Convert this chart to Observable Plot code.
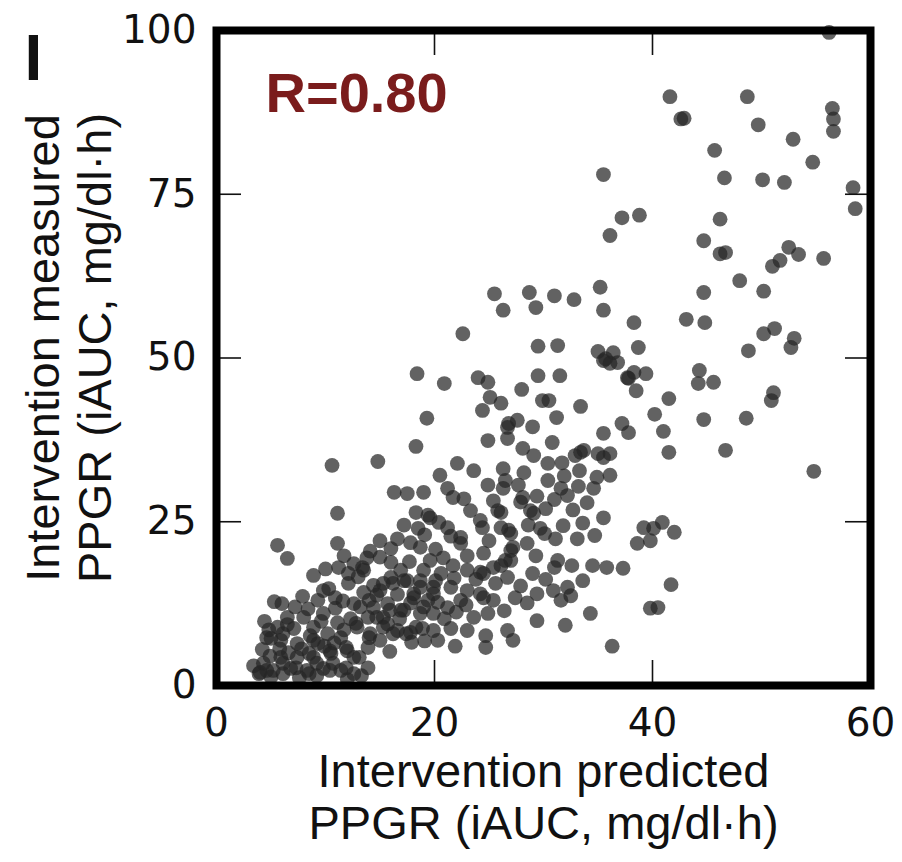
<!DOCTYPE html>
<html><head><meta charset="utf-8">
<script src="https://cdn.jsdelivr.net/npm/d3@7"></script>
<script src="https://cdn.jsdelivr.net/npm/@observablehq/plot@0.6"></script>
<style>body{margin:0;background:#fff}</style>
</head><body><div id="chart"></div>
<script>
// Intervention predicted PPGR (x) and measured PPGR (y)
const predicted = [
  56.2,41.6,42.6,42.9,48.7,49.7,56.5,56.6,56.6,52.9,45.7,54.7,35.5,46.6,50.1,52.1,58.4,58.6,37.2,38.8,36.1,46.2,44.7,46.2,46.7,52.5,53.4,51.7,51.0,55.7,48.0,44.7,50.2,35.2,25.5,28.7,31.0,32.8,
  35.5,38.3,43.1,44.8,50.2,51.2,48.8,52.7,53.0,38.7, 36.4,35.7,36.8,38.3,39.4,38.5,37.8,44.3,44.2,45.6, 51.1,50.9,41.5,40.2,44.7,48.6,41.0,37.2,37.8,41.5, 46.7,54.8,35.5,36.1,35.5,36.1,35.5,39.2,40.9,40.1, 42.0,38.6,39.8,35.8,37.3,41.7,39.8,40.5,36.3,
  26.3,29.3,22.6,29.5,31.3,35.0,36.1,35.5,37.7,18.4, 20.9,24.0,24.9,29.5,31.5,28.0,25.1,26.1,24.4,29.9, 30.5,33.4,31.2,19.3,26.8,27.6,29.0,26.7,24.9,30.8, 28.1,29.1,30.4,31.7,32.9,33.7,35.0,18.3,14.8,10.6,
  26.3,26.5,26.3,28.2,30.4,31.6,32.2,33.2,34.6,34.0, 28.1,28.8,30.2,20.5,21.2,21.7,22.7,23.3,16.3,17.5, 19.0,11.1,24.4,25.8,26.1,26.8,29.7,31.8,31.1,33.1, 18.3,19.4,20.4,18.5,15.0,16.6,17.8,18.7,11.1,5.6,
  6.5,8.9,11.2,12.6,13.4,12.1,16.0,16.9,16.0,19.6, 20.8,21.7,23.0,24.2,25.4,26.5,27.2,28.5,24.5,25.0, 29.0,29.4,30.9,32.2,32.5,31.6,34.5,34.3,29.4,32.0, 26.7,27.2,24.7,24.7,23.0,21.5,19.9,18.9,17.8,16.6,
  23.6,24.9,22.4,24.2,25.4,20.6,19.9,18.7,18.1,19.4, 21.2,19.9,18.7,16.2,15.0,15.7,14.4,16.9,15.3,13.5, 12.6,13.9,12.9,14.1,15.0,13.9,12.6,13.9,9.8,10.9, 9.3,10.9,9.8,11.1,6.5,8.0,8.9,7.1,5.6,5.0,
  5.9,7.4,9.3,10.2,11.4,12.0,10.5,8.9,7.4,5.9, 4.3,4.0,5.2,6.8,8.3,9.8,11.4,12.6,10.7,26.7, 33.4,29.1,26.1,19.6,21.2,22.4,24.2,27.0,31.3,22.4, 27.0,24.5,26.1,27.0,17.5,18.7,19.9,21.5,23.0,24.5,
  13.5,14.4,15.3,17.2,18.1,17.2,14.0,12.8,14.7,15.9, 15.3,6.1,8.9,14.0,16.2,17.4,18.3,10.4,11.9,13.1, 4.6,6.1,7.3,9.2,10.4,11.9,8.5,3.9,6.1,8.5, 4.6,4.2,4.8,
  4.9,5.8,6.6,7.8,8.6,9.9,10.8,11.7,12.3,13.2, 11.6,10.3,12.1,13.0,7.2,6.0,7.9,8.4,9.6,6.5, 4.4,5.3,10.0,11.7,13.8,9.2,7.6,5.0,3.4,12.0, 13.3,
  15.7,16.8,17.8,19.0,20.3,20.9,22.0,22.9,21.8,20.1, 19.0,17.7,15.0,14.1,16.0,20.1,21.5,19.1,17.2,23.8, 23.0,14.7,16.6,17.9,19.1,20.3,21.9,15.9,
  25.6,26.7,27.9,28.5,26.4,27.4,30.2,31.0,32.6,33.6, 29.3,30.1,28.6,27.9,29.4,31.0,32.7,33.6,34.7,31.9, 33.3,34.9,27.7,25.4,24.9,23.6,22.1
];
const measured = [
  99.7,89.9,86.5,86.6,89.9,85.6,88.1,86.5,84.6,83.4,81.7,79.9,78.0,77.5,77.2,76.8,76.0,72.8,71.4,71.8,68.7,71.2,67.9,65.9,66.1,66.9,65.8,64.9,64.0,65.2,61.8,60.0,60.2,60.8,59.8,60.0,59.5,58.9,
  57.3,55.4,55.9,55.4,53.7,54.5,51.1,51.6,53.0,51.6, 50.8,49.9,49.3,47.8,47.6,45.0,46.9,48.1,46.1,46.3, 44.7,43.5,43.8,41.4,40.6,40.8,38.8,40.0,38.6,35.6, 35.9,32.7,38.5,35.4,34.8,32.1,25.6,24.1,24.9,24.0, 23.4,21.7,22.1,18.0,17.9,15.4,11.8,11.9,6.0,
  57.3,57.7,53.7,51.8,51.9,51.0,49.2,49.6,47.0,47.6, 46.1,47.0,46.3,47.3,47.3,45.2,44.0,43.1,42.0,43.5, 43.5,42.6,40.9,40.8,40.0,40.5,39.5,37.7,37.4,37.1, 36.2,35.1,33.9,34.0,35.1,35.9,35.4,36.5,34.2,33.6,
  33.1,31.3,30.1,32.5,31.3,30.1,29.0,30.4,30.1,27.9, 28.7,26.7,27.0,32.1,30.1,28.7,28.5,26.7,29.5,29.3, 29.5,26.3,24.1,26.7,24.1,23.7,24.0,24.4,22.4,22.4, 26.4,26.0,24.9,24.0,22.1,22.4,21.8,21.1,21.7,21.4,
  19.4,16.8,18.0,18.6,18.0,17.1,18.8,17.6,16.5,19.1, 19.5,18.3,17.6,17.3,18.0,19.1,21.1,21.7,20.2,22.1, 17.1,14.0,14.5,15.0,13.7,13.0,18.3,11.0,9.9,9.2, 8.4,6.9,7.6,5.8,8.4,8.7,8.4,8.7,8.1,8.4,
  10.4,11.0,13.0,14.0,13.0,17.1,15.0,16.0,14.0,13.0, 11.9,11.0,11.0,15.6,14.5,12.5,11.9,11.5,10.4,14.2, 12.5,10.4,8.9,7.9,6.9,5.8,4.3,2.7,14.5,13.4, 13.0,11.8,11.0,9.6,10.4,10.4,8.9,8.7,8.9,7.2,
  6.9,6.4,6.4,7.9,7.3,5.3,4.9,4.3,4.3,4.3, 3.4,2.0,2.3,2.6,2.3,2.6,2.3,1.8,3.4,39.4, 35.6,26.3,26.4,25.6,24.1,22.6,25.2,23.2,19.1,21.7, 20.6,17.1,18.3,19.1,16.0,15.0,14.0,15.0,14.5,13.4,
  17.6,15.3,15.6,16.0,13.4,11.5,13.0,9.5,10.4,11.5, 8.9,7.9,6.9,7.3,7.9,7.9,8.9,5.3,5.8,4.3, 2.3,3.4,2.7,3.4,2.3,2.7,4.9,1.8,1.8,1.8, 7.3,5.5,8.5,
  4.5,5.6,5.0,5.6,7.6,6.0,6.5,8.5,10.2,12.0, 12.9,14.8,15.6,16.6,12.0,12.5,13.6,11.7,9.8,9.3, 9.8,12.8,17.8,19.8,19.5,1.5,1.2,1.3,3.0,0.9, 1.5,
  9.4,10.2,12.6,12.0,12.7,10.2,11.2,12.3,16.4,16.0, 17.6,18.9,19.6,20.5,20.9,20.8,22.8,23.0,24.5,16.2, 19.8,13.8,13.9,6.6,6.8,6.9,6.0,5.2,
  15.6,16.5,15.2,12.6,11.4,13.4,16.2,18.0,18.3,16.0, 19.8,23.2,24.5,28.0,28.9,28.4,26.8,24.8,22.9,32.0, 32.8,31.8,30.6,28.2,30.6,32.8,33.9
];
const xTicks = [0, 20, 40, 60];
const yTicks = [0, 25, 50, 75, 100];
const innerXTicks = [20, 40];
const innerYTicks = [25, 50, 75];
const xLabel = "Intervention predicted\nPPGR (iAUC, mg/dl·h)";
const yLabel = "Intervention measured\nPPGR (iAUC, mg/dl·h)";
const panelLabel = "I";
const rLabel = "R=0.80";

const n = Math.min(predicted.length, measured.length);
const points = d3.range(n).map(i => ({x: predicted[i], y: measured[i]}));

const W = 902, H = 862, mL = 216, mT = 30, mR = 32, mB = 177;
const innerW = W - mL - mR, innerH = H - mT - mB;
const tickLen = 25;
const labelFont = "Liberation Sans, Arial, sans-serif";
const tickFont = "DejaVu Sans, sans-serif";

const chart = Plot.plot({
  width: W, height: H,
  marginLeft: mL, marginTop: mT, marginRight: mR, marginBottom: mB,
  x: {domain: [0, 60]},
  y: {domain: [0, 100]},
  style: {background: "#fff", color: "#111", overflow: "visible"},
  marks: [
    Plot.dot(points, {x: "x", y: "y", r: 7.4, fill: "#262626", fillOpacity: 0.72, stroke: "none"}),
    Plot.tickX(innerXTicks, {x: d => d, insetBottom: innerH - tickLen, stroke: "#111", strokeWidth: 1.6}),
    Plot.tickX(innerXTicks, {x: d => d, insetTop: innerH - tickLen, stroke: "#111", strokeWidth: 1.6}),
    Plot.tickY(innerYTicks, {y: d => d, insetRight: innerW - tickLen, stroke: "#111", strokeWidth: 1.6}),
    Plot.tickY(innerYTicks, {y: d => d, insetLeft: innerW - tickLen, stroke: "#111", strokeWidth: 1.6}),
    Plot.frame({stroke: "#000", strokeWidth: 8}),
    Plot.axisX(xTicks, {tickSize: 0, tickPadding: 23, fontSize: 39, fontFamily: tickFont, label: null, fill: "#111"}),
    Plot.axisY(yTicks, {tickSize: 0, tickPadding: 20, fontSize: 39, fontFamily: tickFont, label: null, fill: "#111"}),
    Plot.text([xLabel], {frameAnchor: "bottom", lineAnchor: "top", dy: 65, fontSize: 47, lineHeight: 1.1, fontFamily: labelFont, fill: "#111"}),
    Plot.text([yLabel], {frameAnchor: "left", rotate: -90, lineAnchor: "top", textAnchor: "middle", dx: -194, dy: -10, fontSize: 47, lineHeight: 1.1, fontFamily: labelFont, fill: "#111"}),
    Plot.text([panelLabel], {frameAnchor: "top-left", lineAnchor: "top", textAnchor: "middle", dx: 33 - mL, dy: 4, fontSize: 64, fontWeight: "bold", fontFamily: labelFont, fill: "#111"}),
    Plot.text([rLabel], {frameAnchor: "top-left", lineAnchor: "top", textAnchor: "start", dx: 49, dy: 42, fontSize: 56, fontWeight: "bold", fontFamily: labelFont, fill: "#7a1c1c"})
  ]
});
document.getElementById("chart").appendChild(chart);
</script>
</body></html>
